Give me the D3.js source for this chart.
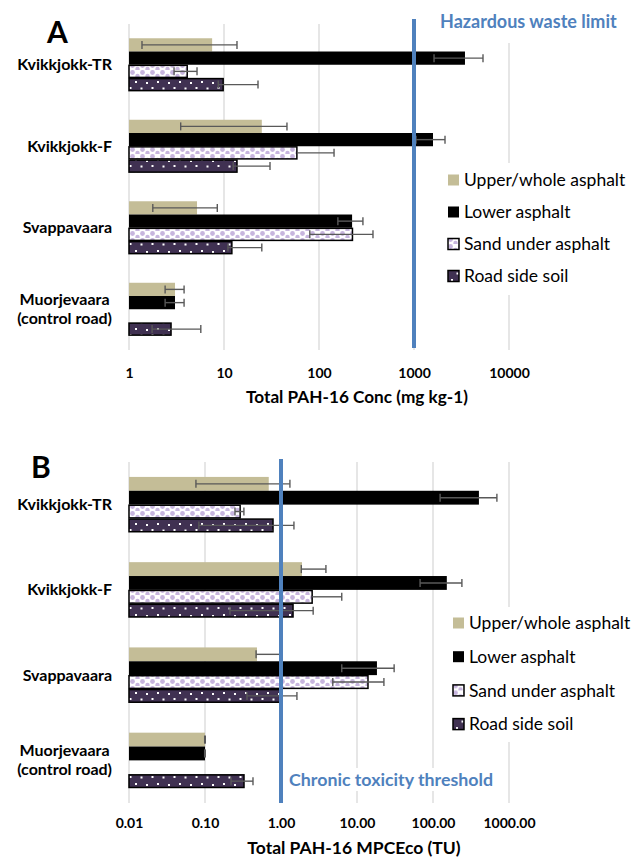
<!DOCTYPE html>
<html><head><meta charset="utf-8">
<script src="https://cdn.jsdelivr.net/npm/d3@7"></script>
<style>
body{margin:0;background:#fff;}
svg{display:block;font-family:Lato,"Open Sans",sans-serif;}
</style></head>
<body><svg id="chart" width="634" height="862"></svg>
<script>
// ---------- DATA ----------
const categories = ["Kvikkjokk-TR", "Kvikkjokk-F", "Svappavaara", "Muorjevaara\n(control road)"];
const seriesNames = ["Upper/whole asphalt", "Lower asphalt", "Sand under asphalt", "Road side soil"];

// Panel A: Total PAH-16 concentration (mg kg-1)
const concTicks = [1, 10, 100, 1000, 10000];
const concUpper   = [7.5, 25, 5.2, 3.05];
const concUpperLo = [1.37, 3.5, 1.78, 2.4];
const concUpperHi = [13.7, 46, 8.5, 3.8];
const concLower   = [3440, 1585, 223, 3.05];
const concLowerLo = [1625, 1050, 158, 2.4];
const concLowerHi = [5325, 2120, 290, 3.8];
const concSand    = [4.1, 58.5, 225, null];
const concSandLo  = [2.98, null, 80, null];
const concSandHi  = [5.2, 144, 370, null];
const concSoil    = [9.8, 13.7, 12.1, 2.77];
const concSoilLo  = [8.7, 12.5, 11.0, 1.75];
const concSoilHi  = [22.8, 30.5, 25, 5.7];
const hazardLimit = 1000;

// Panel B: Total PAH-16 MPCEco (TU)
const tuTicks = [0.01, 0.1, 1, 10, 100, 1000];
const tuUpper   = [0.69, 1.89, 0.483, 0.10];
const tuUpperLo = [0.076, 1.85, 0.47, 0.099];
const tuUpperHi = [1.31, 3.9, 1.0, 0.101];
const tuLower   = [402, 152, 18.3, 0.10];
const tuLowerLo = [124, 67.6, 6.3, 0.099];
const tuLowerHi = [693, 240, 30.8, 0.101];
const tuSand    = [0.29, 2.57, 13.95, null];
const tuSandLo  = [0.248, null, 4.8, null];
const tuSandHi  = [0.325, 6.3, 22.6, null];
const tuSoil    = [0.785, 1.44, 1.0, 0.326];
const tuSoilLo  = [0.083, 0.213, 0.357, 0.22];
const tuSoilHi  = [1.48, 2.65, 1.62, 0.428];
const chronicThreshold = 1;

// ---------- STYLE ----------
const TAN = "#C4BD97", BLACK = "#000", SOILC = "#403152", SANDDOT = "#C7B5DE";
const BLUE = "#4F81BD", GRID = "#D9D9D9", ERR = "#595959";

const svg = d3.select("#chart");
const defs = svg.append("defs");
// sand pattern
const ps = defs.append("pattern").attr("id", "sandPat").attr("patternUnits", "userSpaceOnUse")
  .attr("width", 10).attr("height", 7);
ps.append("rect").attr("width", 10).attr("height", 7).attr("fill", "#fff");
ps.append("circle").attr("cx", 2.5).attr("cy", 2.5).attr("r", 2.4).attr("fill", SANDDOT);
ps.append("circle").attr("cx", 7.5).attr("cy", 6).attr("r", 2.2).attr("fill", SANDDOT);
// soil pattern
const pd = defs.append("pattern").attr("id", "soilPat").attr("patternUnits", "userSpaceOnUse")
  .attr("width", 22).attr("height", 13);
pd.append("rect").attr("width", 22).attr("height", 13).attr("fill", SOILC);
[[3, 3], [14, 4], [8.5, 9.5], [19.5, 9]].forEach(([x, y]) =>
  pd.append("rect").attr("x", x).attr("y", y).attr("width", 2).attr("height", 2).attr("fill", "#fff"));

const fills = [TAN, BLACK, "url(#sandPat)", "url(#soilPat)"];

function panel(cfg) {
  const g = svg.append("g");
  const x = d3.scaleLog().domain(cfg.domain).range([129, 509]);
  const y = d3.scaleBand().domain(categories).range([cfg.top, cfg.bottom]).paddingInner(0.35).paddingOuter(0.175);
  const ys = d3.scaleBand().domain(seriesNames).range([0, y.bandwidth()]);

  // gridlines
  g.append("g").selectAll("line").data(cfg.ticks).join("line")
    .attr("x1", d => x(d)).attr("x2", d => x(d))
    .attr("y1", cfg.top).attr("y2", cfg.bottom)
    .attr("stroke", GRID).attr("stroke-width", 1.3);

  // bars
  cfg.series.forEach((s, si) => {
    const rows = categories.map((c, i) => ({c, v: s.v[i]}));
    const outlined = si > 1;
    g.append("g").selectAll("rect").data(rows.filter(d => d.v != null)).join("rect")
      .attr("x", x(cfg.domain[0]))
      .attr("y", d => y(d.c) + ys(seriesNames[si]) + (outlined ? 0.6 : 0))
      .attr("width", d => x(d.v) - x(cfg.domain[0]))
      .attr("height", ys.bandwidth() - (outlined ? 1.2 : 0))
      .attr("fill", fills[si])
      .attr("stroke", outlined ? BLACK : null)
      .attr("stroke-width", 1.5);
  });
  // error bars
  cfg.series.forEach((s, si) => {
    const rows = categories.map((c, i) => ({c, v: s.v[i], lo: s.lo[i], hi: s.hi[i]})).filter(d => d.v != null);
    const eg = g.append("g").attr("stroke", ERR).attr("stroke-width", 1.4).attr("fill", "none");
    rows.forEach(d => {
      const cy = y(d.c) + ys(seriesNames[si]) + ys.bandwidth() / 2;
      const x0 = d.lo != null ? x(d.lo) : x(d.v);
      const x1 = d.hi != null ? x(d.hi) : x(d.v);
      eg.append("line").attr("x1", x0).attr("x2", x1).attr("y1", cy).attr("y2", cy);
      if (d.lo != null) eg.append("line").attr("x1", x0).attr("x2", x0).attr("y1", cy - 4).attr("y2", cy + 4);
      if (d.hi != null) eg.append("line").attr("x1", x1).attr("x2", x1).attr("y1", cy - 4).attr("y2", cy + 4);
    });
  });

  // threshold line
  g.append("line").attr("x1", x(cfg.limit)).attr("x2", x(cfg.limit))
    .attr("y1", cfg.limTop).attr("y2", cfg.limBottom)
    .attr("stroke", BLUE).attr("stroke-width", 4);

  // annotation text box
  g.append("rect").attr("x", cfg.ann.box[0]).attr("y", cfg.ann.box[1])
    .attr("width", cfg.ann.box[2]).attr("height", cfg.ann.box[3]).attr("fill", "#fff");
  g.append("text").attr("x", cfg.ann.x).attr("y", cfg.ann.y).text(cfg.ann.text)
    .attr("fill", BLUE).attr("font-weight", "bold").attr("font-size", cfg.ann.size);

  // axis
  const ax = g.append("g").attr("transform", `translate(0,${cfg.bottom})`)
    .call(d3.axisBottom(x).tickValues(cfg.ticks).tickSize(0).tickPadding(cfg.tickPad).tickFormat(cfg.fmt));
  ax.select(".domain").remove();
  ax.selectAll("text").attr("font-family", "Lato").attr("font-size", 14).attr("font-weight", "bold").attr("fill", "#000");

  g.append("text").attr("x", cfg.titleX).attr("y", cfg.titleY).attr("text-anchor", "middle")
    .attr("font-weight", "bold").attr("font-size", cfg.titleSize).text(cfg.title);

  // category labels
  categories.forEach(c => {
    const lines = c.split("\n");
    const cy = y(c) + y.bandwidth() / 2;
    if (lines.length === 1) {
      g.append("text").attr("x", 112).attr("y", cy).attr("dy", "0.35em").attr("text-anchor", "end")
        .attr("font-weight", "bold").attr("font-size", 16).text(c);
    } else {
      const ts = lines.map((l, i) => g.append("text").attr("y", cy + (i - (lines.length - 1) / 2) * 19)
        .attr("dy", "0.35em").attr("text-anchor", "middle").attr("font-weight", "bold").attr("font-size", 16).text(l));
      const w = d3.max(ts, t => t.node().getComputedTextLength());
      ts.forEach(t => t.attr("x", 112 - w / 2));
    }
  });

  // panel letter
  g.append("text").attr("x", cfg.letter[1]).attr("y", cfg.letter[2]).attr("font-weight", "bold")
    .attr("font-size", 30).text(cfg.letter[0]);

  // legend
  g.append("rect").attr("x", cfg.leg.box[0]).attr("y", cfg.leg.box[1]).attr("width", cfg.leg.box[2])
    .attr("height", cfg.leg.box[3]).attr("fill", "#fff");
  const lg = g.append("g").selectAll("g").data(seriesNames).join("g")
    .attr("transform", (d, i) => `translate(${cfg.leg.x},${cfg.leg.y + i * cfg.leg.step})`);
  lg.append("rect").attr("x", 0).attr("y", -5.5).attr("width", 11).attr("height", 11)
    .attr("fill", (d, i) => fills[i]).attr("stroke", (d, i) => i > 1 ? BLACK : null).attr("stroke-width", 1.5);
  lg.append("text").attr("x", 16).attr("dy", "0.35em").attr("font-size", 17.5).text(d => d);
}

panel({
  domain: [1, 10000], ticks: concTicks, top: 24, bottom: 350, fmt: d3.format("d"), tickPad: 18.5,
  series: [
    {v: concUpper, lo: concUpperLo, hi: concUpperHi},
    {v: concLower, lo: concLowerLo, hi: concLowerHi},
    {v: concSand, lo: concSandLo, hi: concSandHi},
    {v: concSoil, lo: concSoilLo, hi: concSoilHi}],
  limit: hazardLimit, limTop: 19, limBottom: 348,
  ann: {text: "Hazardous waste limit", x: 440, y: 28, size: 18, box: [436, 4, 196, 39]},
  title: "Total PAH-16 Conc (mg kg-1)", titleX: 357, titleY: 403, titleSize: 17.2,
  letter: ["A", 47, 43],
  leg: {x: 448, y: 180, step: 32, box: [440, 163, 194, 132]}
});

panel({
  domain: [0.01, 1000], ticks: tuTicks, top: 462, bottom: 803, fmt: d3.format(".2f"), tickPad: 15,
  series: [
    {v: tuUpper, lo: tuUpperLo, hi: tuUpperHi},
    {v: tuLower, lo: tuLowerLo, hi: tuLowerHi},
    {v: tuSand, lo: tuSandLo, hi: tuSandHi},
    {v: tuSoil, lo: tuSoilLo, hi: tuSoilHi}],
  limit: chronicThreshold, limTop: 459, limBottom: 803,
  ann: {text: "Chronic toxicity threshold", x: 289, y: 786, size: 17.8, box: [286, 768, 214, 23]},
  title: "Total PAH-16 MPCEco (TU)", titleX: 354, titleY: 854, titleSize: 17.5,
  letter: ["B", 31, 478],
  leg: {x: 453, y: 623, step: 33.7, box: [445, 607, 189, 135]}
});
</script></body></html>
